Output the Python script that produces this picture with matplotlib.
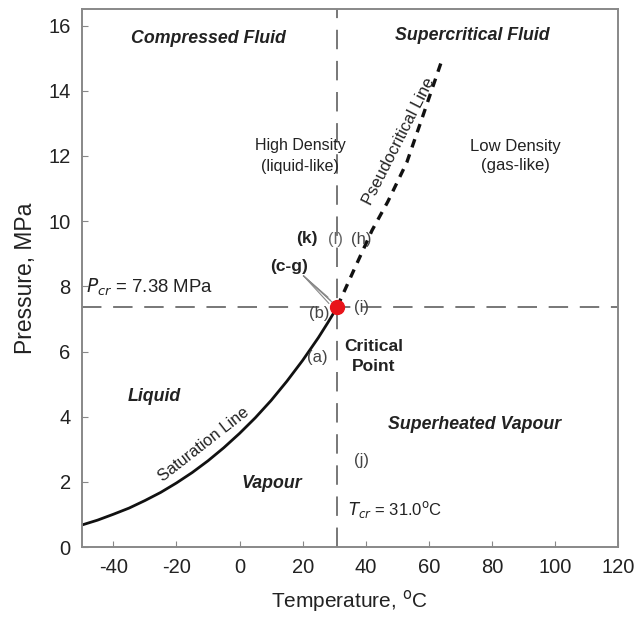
import matplotlib.pyplot as plt

plt.rcParams['font.family'] = ['Liberation Sans', 'DejaVu Sans']
plt.rcParams['axes.unicode_minus'] = False

# ---------- Data ----------
# CO2 saturation line (temperature in C, pressure in MPa)
sat_T = [-50, -45, -40, -35, -30, -25, -20, -15, -10, -5, 0, 5, 10, 15, 20, 25, 28, 30, 31.0]
sat_P = [0.68, 0.83, 1.01, 1.20, 1.43, 1.68, 1.97, 2.29, 2.65, 3.05, 3.49, 3.97, 4.50, 5.09, 5.73, 6.43, 6.89, 7.21, 7.38]

# pseudocritical line
pc_T = [31.0, 36, 42, 47, 53, 58, 64]
pc_P = [7.38, 8.45, 9.72, 10.6, 11.8, 13.2, 14.9]

T_cr = 31.0
P_cr = 7.38

x_ticks = [-40, -20, 0, 20, 40, 60, 80, 100, 120]
y_ticks = [0, 2, 4, 6, 8, 10, 12, 14, 16]

# ---------- Plot ----------
fig = plt.figure(figsize=(6.34, 6.19), dpi=100)
ax = fig.add_axes([0.129, 0.116, 0.846, 0.869])

ax.axvline(T_cr, color='#777777', lw=1.4, dashes=(10, 6), zorder=1)
ax.axhline(P_cr, color='#777777', lw=1.4, dashes=(10, 6), zorder=1)

ax.plot(sat_T, sat_P, color='#111111', lw=2)
ax.plot(pc_T, pc_P, color='#111111', lw=2.4, dashes=(2.6, 2.2))

# arrows from (c-g) label to critical point
for ex, ey in [(28.0, 7.67), (28.7, 7.58), (29.3, 7.52), (28.3, 7.48)]:
    ax.plot([20.3, ex], [8.32, ey], color='#888888', lw=0.8)

ax.plot([T_cr], [P_cr], 'o', color='#e8141a', ms=10, zorder=5)

txt = '#222222'
bi = dict(fontsize=12.8, fontweight='bold', fontstyle='italic', color=txt, ha='center', va='center')
ax.text(-10, 15.6, 'Compressed Fluid', **bi)
ax.text(73.7, 15.7, 'Supercritical Fluid', **bi)
ax.text(-27, 4.63, 'Liquid', **bi)
ax.text(74.5, 3.77, 'Superheated Vapour', **bi)
ax.text(10.3, 1.96, 'Vapour', **bi)

ax.text(19.3, 12.0, 'High Density\n(liquid-like)', linespacing=1.45, fontsize=11.5,
        color=txt, ha='center', va='center')
ax.text(87.3, 12.0, 'Low Density\n(gas-like)', linespacing=1.4, fontsize=12,
        color=txt, ha='center', va='center')
ax.text(50.5, 12.45, 'Pseudocritical Line', rotation=63, fontsize=12, color=txt,
        ha='center', va='center')
ax.text(-11.5, 3.15, 'Saturation Line', rotation=38, fontsize=11.8, color=txt,
        ha='center', va='center')

bd = dict(fontsize=12.5, fontweight='bold', color=txt, ha='center', va='center')
lt = dict(fontsize=12, color='#444444', ha='center', va='center')
ax.text(21.4, 9.48, '(k)', **bd)
ax.text(30.5, 9.43, '(l)', fontsize=12, color='#666666', ha='center', va='center')
ax.text(38.5, 9.45, '(h)', **lt)
ax.text(15.7, 8.6, '(c-g)', **bd)
ax.text(25.2, 7.18, '(b)', **lt)
ax.text(38.8, 7.36, '(i)', **lt)
ax.text(24.6, 5.81, '(a)', **lt)
ax.text(38.8, 2.65, '(j)', **lt)
ax.text(42.6, 5.85, 'Critical\nPoint', linespacing=1.4, **bd)

ax.text(-48.8, 7.98, r'$P_{cr}$ = 7.38 MPa', fontsize=13.4, color=txt, ha='left', va='center')
ax.text(34.3, 1.17, r'$T_{cr}$ = 31.0$^{\mathrm{o}}$C', fontsize=12, color=txt, ha='left', va='center')

ax.set_xlim(-50, 120)
ax.set_ylim(0, 16.5)
ax.set_xticks(x_ticks)
ax.set_yticks(y_ticks)
ax.tick_params(direction='in', length=4, color='#888888', labelsize=14.5, labelcolor=txt, pad=8)
for s in ax.spines.values():
    s.set_color('#888888')
    s.set_linewidth(1.4)

ax.set_xlabel(r'Temperature, $^{\mathrm{o}}$C', fontsize=15, color=txt, labelpad=8)
ax.set_ylabel('Pressure, MPa', fontsize=16.5, color=txt, labelpad=8)

fig.savefig('out.png', dpi=100)
